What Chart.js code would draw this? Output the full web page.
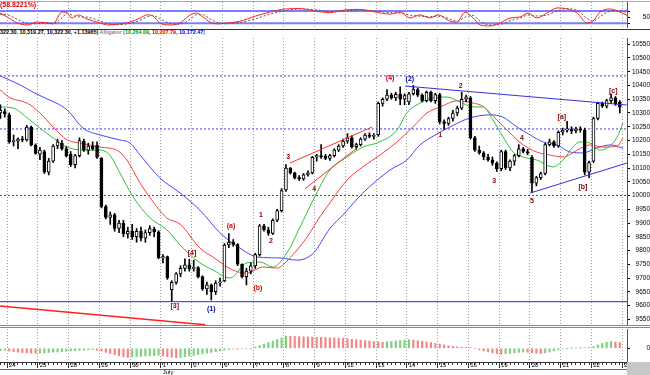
<!DOCTYPE html>
<html><head><meta charset="utf-8">
<script src="https://cdn.jsdelivr.net/npm/chart.js@4.4.1/dist/chart.umd.min.js"></script>
<style>
html,body{margin:0;padding:0;background:#fff}
#wrap{position:relative;width:650px;height:375px;overflow:hidden;font-family:"Liberation Sans",Arial,sans-serif}
canvas{position:absolute;left:0}
.hl{position:absolute;left:0;width:650px;height:1px}
</style></head><body><div id="wrap">
<canvas id="osc" width="650" height="29" style="top:0px"></canvas>
<canvas id="main" width="650" height="288" style="top:38px"></canvas>
<canvas id="hist" width="650" height="47" style="top:328px"></canvas>
<div class="hl" style="top:1px;background:#aaa"></div>
<div class="hl" style="top:29px;background:#333"></div>
<div class="hl" style="top:325px;background:#888"></div>
<div class="hl" style="top:327px;background:#888"></div>
<div style="position:absolute;left:0;top:369px;width:627px;height:1px;background:#666"></div>
<div style="position:absolute;left:627px;top:362px;width:23px;height:13px;background:#c8c8c8"></div>
<div id="t1" style="position:absolute;left:0;top:1px;font:bold 7px 'Liberation Sans';color:#e00000;white-space:nowrap">(58.8221%)</div>
<div id="t2" style="position:absolute;left:0;top:29px;font:bold 6px 'Liberation Sans';white-space:nowrap;transform-origin:0 0;color:#000">322.30, 10,319.27, 10,322.30, +1.13965) <span style="color:#888">Alligator</span> <span style="color:#666">(</span><span style="color:#00a000">10,264.09</span>, <span style="color:#e00000">10,207.79</span>, <span style="color:#0000e0">10,172.47</span><span style="color:#666">)</span></div>
</div>
<script>
// ---------- data ----------
const dayLabels = ['24','25','28','29','30',['1','July'],'2','6','7','8','9','12','13','14','15','16','19','20','21','22','23'];
const barsPerDay = 7;
const firstBar = -2;
const open  = [10300,10305,10293,10195,10198,10205,10202,10249,10183,10150,10160,10085,10125,10180,10190,10170,10150,10112,10145,10198,10165,10180,10182,10135,9960,9920,9930,9880,9900,9860,9870,9850,9870,9845,9865,9878,9868,9772,9778,9658,9684,9715,9735,9748,9735,9738,9705,9660,9675,9650,9682,9690,9820,9830,9822,9750,9705,9725,9744,9785,9890,9875,9862,9910,9945,10020,10100,10082,10065,10060,10075,10082,10139,10145,10142,10135,10145,10165,10180,10198,10210,10178,10185,10205,10220,10215,10220,10335,10350,10365,10355,10368,10350,10340,10370,10385,10365,10345,10375,10345,10367,10268,10262,10280,10300,10318,10350,10355,10210,10165,10155,10140,10130,10118,10098,10160,10100,10125,10145,10170,10160,10140,10045,10065,10080,10185,10195,10180,10230,10238,10240,10235,10242,10238,10085,10125,10280,10335,10325,10345,10355,10340];
const high  = [10330,10315,10300,10220,10210,10215,10255,10252,10188,10175,10165,10135,10185,10205,10200,10178,10160,10150,10210,10205,10190,10195,10195,10138,9965,9940,9935,9910,9910,9885,9895,9880,9885,9875,9890,9885,9872,9785,9780,9690,9720,9745,9770,9768,9765,9742,9708,9685,9678,9690,9700,9825,9862,9840,9825,9752,9735,9755,9790,9895,9895,9885,9915,9950,10025,10112,10102,10085,10072,10080,10090,10142,10150,10185,10150,10150,10170,10185,10205,10225,10218,10190,10210,10225,10228,10225,10340,10355,10385,10372,10375,10395,10370,10375,10400,10390,10370,10380,10380,10372,10372,10275,10285,10310,10325,10375,10365,10360,10215,10180,10160,10150,10140,10122,10165,10165,10130,10150,10185,10175,10168,10145,10070,10085,10190,10205,10200,10235,10245,10270,10250,10248,10250,10245,10125,10285,10340,10340,10350,10370,10360,10345];
const low   = [10280,10285,10190,10180,10170,10195,10198,10180,10150,10130,10080,10075,10120,10170,10165,10140,10105,10100,10140,10160,10150,10165,10135,9955,9915,9895,9870,9865,9850,9845,9840,9830,9835,9830,9855,9850,9770,9755,9695,9616,9678,9705,9725,9725,9725,9700,9655,9640,9620,9640,9670,9686,9810,9815,9745,9700,9675,9715,9735,9780,9870,9855,9858,9905,9940,10015,10078,10060,10055,10055,10070,10078,10125,10135,10130,10128,10140,10160,10175,10190,10172,10168,10180,10200,10210,10205,10215,10325,10345,10350,10345,10330,10330,10330,10365,10360,10340,10340,10340,10335,10260,10240,10255,10270,10290,10312,10340,10205,10160,10150,10130,10125,10110,10088,10090,10095,10090,10110,10140,10155,10148,10010,10035,10058,10075,10180,10175,10175,10220,10230,10225,10228,10230,10075,10065,10120,10275,10320,10318,10335,10328,10300];
const close = [10310,10298,10195,10200,10205,10202,10249,10183,10153,10165,10085,10125,10180,10195,10170,10144,10112,10145,10200,10165,10180,10170,10139,9960,9920,9930,9880,9900,9860,9870,9850,9870,9845,9865,9880,9868,9774,9778,9700,9684,9715,9735,9748,9733,9738,9705,9660,9675,9650,9682,9686,9820,9830,9822,9750,9705,9725,9744,9785,9890,9875,9862,9910,9945,10018,10100,10082,10065,10060,10075,10082,10139,10145,10140,10135,10145,10165,10180,10198,10210,10178,10185,10205,10220,10215,10216,10335,10350,10365,10355,10368,10350,10363,10370,10385,10365,10345,10375,10345,10367,10268,10262,10280,10300,10318,10350,10359,10210,10165,10155,10140,10130,10118,10098,10160,10100,10125,10145,10170,10160,10154,10045,10065,10080,10185,10195,10180,10230,10238,10240,10235,10242,10238,10085,10120,10280,10335,10325,10345,10355,10332,10322];

// Alligator lines (bar position, price)
const lipsX  = [-2.09,0.9,4.1,7.0,10.0,13.2,16.8,20.7,22.9,25.2,28.2,32.1,35.9,38.9,43.4,46.4,50.3,54.1,57.1,60.0,63.2,66.2,69.2,73.0,76.9,80.5,84.4,88.3,90.5,93.5,96.5,99.7,102.6,105.6,107.8,110.1,112.4,114.7,117.0,120.1,123.8,126.1,128.3,129.9,132.2,134.5,136.1,138.4,139.7];
const lipsY  = [10322,10318,10282,10245,10209,10176,10165,10165,10147,10082,9995,9918,9875,9820,9755,9729,9700,9755,9758,9740,9791,9885,9984,10093,10140,10176,10195,10238,10300,10336,10355,10358,10340,10322,10322,10275,10213,10158,10140,10129,10104,10129,10176,10195,10191,10165,10173,10213,10264];
const teethX = [-2.09,0.2,4.1,7.0,10.0,13.2,16.1,20.7,24.5,26.8,29.8,32.1,35.9,38.9,43.4,46.4,50.9,54.1,57.8,60.9,63.9,67.8,70.7,73.0,76.9,80.5,84.4,88.3,91.9,95.1,98.1,102.0,105.6,107.8,111.0,114.0,117.0,120.1,123.1,126.1,129.3,132.2,135.2,138.4,139.7];
const teethY = [10384,10355,10336,10300,10249,10202,10191,10176,10165,10129,10045,9991,9918,9896,9809,9776,9729,9718,9740,9736,9773,9849,9922,9973,10056,10104,10147,10195,10249,10300,10322,10344,10336,10325,10275,10227,10184,10158,10147,10140,10165,10184,10176,10180,10208];
const jawX   = [-2.09,2.5,5.4,7.7,13.2,16.8,20.7,25.2,27.5,29.8,34.3,38.9,43.4,48.0,52.5,56.6,61.6,65.5,69.2,73.0,76.0,80.5,86.7,90.5,93.5,95.8,100.3,104.9,109.4,112.4,115.6,118.6,121.5,124.7,127.7,130.6,133.8,136.8,139.7];
const jawY   = [10435,10402,10376,10358,10311,10245,10220,10202,10191,10147,10064,10009,9947,9864,9809,9776,9773,9765,9790,9880,9930,10009,10093,10129,10184,10209,10249,10282,10293,10285,10249,10220,10195,10184,10158,10155,10173,10184,10172];

const priceTicks = [9550,9600,9650,9700,9750,9800,9850,9900,9950,10000,10050,10100,10150,10200,10250,10300,10350,10400,10450,10500,10550];
const dottedLevels = [10435,10242,10000];
const lowLevel = 9614;
// trend lines: [x1, p1, x2, p2]
const blueTrendTop    = [90.1,10398,140.6,10329];
const blueTrendBottom = [118.6,10009,140.6,10118];
const redTrendUpper   = [63.9,10118,82.6,10249];
const redTrendLower   = [67.3,10024,79.4,10176];
const redTrendLeft    = [-2.09,9598,44.6,9530];

const waveText  = ['[5]','[3]','[4]','(1)','(a)','(b)','1','2','3','4','(4)','(2)','1','2','3','4','5','[a]','[b]','[c]'];
const waveIdx   = [-3.0,37.7,41.6,46,50.5,56.6,57.3,59.6,63.5,69.4,86.7,91.2,98.1,102.8,110.4,116.7,119,125.8,130.6,137.5];
const wavePrice = [10376,9598,9791,9587,9889,9664,9929,9835,10140,10024,10427,10424,10220,10398,10053,10209,9980,10285,10031,10380];
const waveColor = ['#8b0000','#8b0000','#8b0000','#000099','#e00000','#e00000','#8b0000','#8b0000','#8b0000','#8b0000','#e00000','#000099','#8b0000','#8b0000','#8b0000','#8b0000','#8b0000','#8b0000','#8b0000','#8b0000'];

// oscillator (top panel)
const oscX   = [-2.09,-0.5,1.8,4.1,6.3,8.6,10,12,13.2,14.3,15.7,17.7,20.7,22.3,25.2,27.5,29.8,31.4,32.7,34.3,36.6,38.9,41.2,42.7,44.1,45.7,47.5,49.1,52.5,56,59.4,62.8,66.2,69.6,73,76.4,79.8,83.3,86.7,89,91.2,93.5,95.8,97.6,100.3,101.9,103.8,105.6,107.2,109.4,111.7,114,116.3,118.1,120.1,122.4,124.7,127,129.3,131.5,132.9,134.5,136.8,139,140.6];
const oscK   = [70,51,22,12,26,22,17,75,70,46,61,41,22,12,17,26,46,61,56,22,12,22,61,70,51,26,17,20,30,55,75,90,92,80,72,85,88,75,65,75,46,61,46,61,31,26,75,46,12,7,22,46,51,70,46,70,95,90,70,22,31,75,90,75,60];
const oscD   = [65,62,40,20,18,22,20,45,70,60,52,50,32,18,14,20,35,52,58,42,20,16,40,62,62,42,24,18,24,42,65,82,90,86,78,80,85,80,72,70,60,55,52,55,42,30,50,58,30,12,14,32,46,60,56,60,80,92,82,45,30,52,80,82,72];
const oscLevels = [80,20];

// lower histogram, one value per bar
const histVals = [-15,-14,-18,-22,-25,-28,-30,-32,-33,
  -32,-30,-28,-26,-24,-22,-20,-18,-16,-14,-12,-10,-8,
  -12,-18,-26,-34,-42,-50,-56,-60,
  -58,-56,-54,-52,-50,-48,-46,
  -50,-55,-60,-62,
  -60,-56,-52,-47,-42,-37,-32,-27,-22,-17,-12,
  -8,-5,-6,-3,-4,-1,
  8,18,28,38,48,58,68,
  80,79,78,77,76,75,74,73,72,71,70,69,68,66,63,60,57,
  54,51,48,45,42,40,
  43,46,49,52,55,57,
  54,50,46,42,38,33,28,22,
  17,13,10,7,5,3,
  -3,-10,-17,-24,-30,-35,-40,
  -36,-33,-30,-27,-24,-26,-29,
  -32,-35,-30,-24,-17,-10,-4,
  -1,1,3,2,4,5,
  12,22,32,40,44,41,38];

// ---------- layout constants ----------
const X_MIN = -2.094, X_MAX = 140.63;
const FONT = '"Liberation Sans", Arial, sans-serif';
const barPos = open.map((_, k) => firstBar + k);
const dayStarts = dayLabels.map((_, d) => d * barsPerDay - 0.5);

Chart.defaults.font.family = FONT;

function baseX(extra) {
  return Object.assign({
    type: 'linear', min: X_MIN, max: X_MAX, offset: false,
    grid: { offset: false, color: '#a0a0a0', drawTicks: false, lineWidth: 1 },
    border: { display: false, dash: [1, 2] },
    ticks: { display: false },
    afterBuildTicks: s => { s.ticks = dayStarts.map(v => ({ value: v })); },
    afterFit: s => { s.height = 0; }
  }, extra || {});
}
function rightY(min, max, ticks, labelFn, extra) {
  return Object.assign({
    position: 'right', min, max,
    grid: { drawOnChartArea: false, tickLength: 3, tickColor: '#000' },
    border: { display: true, color: '#555' },
    ticks: { color: '#000', font: { size: 6.5, family: FONT }, padding: 0, crossAlign: 'far', autoSkip: false, callback: labelFn },
    afterBuildTicks: s => { s.ticks = ticks.map(v => ({ value: v })); },
    afterFit: s => { s.width = 23; s.paddingTop = 0; s.paddingBottom = 0; }
  }, extra || {});
}
function lineDs(xs, ys, color, order, extra) {
  return Object.assign({
    type: 'line', data: xs.map((v, k) => ({ x: v, y: ys[k] })),
    borderColor: color, borderWidth: 1, pointRadius: 0, fill: false,
    cubicInterpolationMode: 'monotone', order
  }, extra || {});
}
function seg(a, color, order, extra) {
  return Object.assign({
    type: 'line', data: [{ x: a[0], y: a[1] }, { x: a[2], y: a[3] }],
    borderColor: color, borderWidth: 1, pointRadius: 0, fill: false, tension: 0, order
  }, extra || {});
}
const common = {
  responsive: false, animation: false, events: [],
  plugins: { legend: { display: false }, tooltip: { enabled: false } }
};

// ---------- oscillator ----------
new Chart(document.getElementById('osc'), {
  type: 'line',
  data: { datasets: [
    ...oscLevels.map(v => seg([X_MIN, v, X_MAX, v], '#7d7dff', 3, { borderWidth: 2 })),
    lineDs(oscX, oscD, '#555', 2, { borderDash: [2, 2] }),
    lineDs(oscX, oscK, '#ff2020', 1)
  ]},
  options: Object.assign({}, common, {
    layout: { padding: { top: 2, bottom: 2, left: 0, right: 0 } },
    scales: {
      x: baseX(),
      y: rightY(2, 124, [20, 50, 80], v => v === 50 ? '50' : '')
    }
  })
});

// ---------- main price chart ----------
const wavePlugin = {
  id: 'waves',
  afterDatasetsDraw(chart) {
    const { ctx, scales: { x, y } } = chart;
    ctx.save();
    ctx.textAlign = 'center'; ctx.textBaseline = 'middle';
    ctx.font = 'bold 7px ' + FONT;
    waveText.forEach((t, k) => {
      ctx.fillStyle = waveColor[k];
      ctx.fillText(t, x.getPixelForValue(waveIdx[k]), y.getPixelForValue(wavePrice[k]));
    });
    ctx.restore();
  }
};
new Chart(document.getElementById('main'), {
  type: 'bar',
  data: { datasets: [
    ...dottedLevels.map(v => seg([X_MIN, v, X_MAX, v], '#3a3aff', 20, { borderDash: [2, 2] })),
    seg([X_MIN, lowLevel, X_MAX, lowLevel], '#2828d8', 20),
    lineDs(jawX, jawY, '#4646ff', 12),
    lineDs(teethX, teethY, '#ff3c3c', 11),
    lineDs(lipsX, lipsY, '#2fbf2f', 10),
    {
      type: 'bar', data: barPos.map((x, k) => ({ x, y: [low[k], high[k]] })),
      backgroundColor: '#000', borderWidth: 0, barThickness: 1, grouped: false, order: 5
    },
    {
      type: 'bar', data: barPos.map((x, k) => ({ x, y: [Math.min(open[k], close[k]), Math.max(open[k], close[k])] })),
      backgroundColor: barPos.map((_, k) => close[k] >= open[k] ? '#fff' : '#000'),
      borderColor: '#000', borderWidth: 1, borderSkipped: false, barThickness: 3, minBarLength: 1, grouped: false, order: 4
    },
    seg(blueTrendTop, '#3030e0', 1),
    seg(blueTrendBottom, '#3030e0', 1),
    seg(redTrendUpper, '#ff3030', 1),
    seg(redTrendLower, '#ff3030', 1),
    seg(redTrendLeft, '#ff2020', 1, { borderWidth: 1.5 })
  ]},
  options: Object.assign({}, common, {
    layout: { padding: 0 },
    scales: {
      x: baseX(),
      y: rightY(9525.5, 10572.7, priceTicks, v => String(v))
    }
  }),
  plugins: [wavePlugin]
});

// ---------- histogram + date axis ----------
const histTicks = [];
for (let i = firstBar; i <= X_MAX; i++) histTicks.push({ value: i });
dayStarts.forEach((v, d) => histTicks.push({ value: v, major: true, label: dayLabels[d] }));
histTicks.sort((a, b) => a.value - b.value);
new Chart(document.getElementById('hist'), {
  type: 'bar',
  data: { datasets: [{
    data: barPos.map((x, k) => ({ x, y: histVals[k] })),
    backgroundColor: histVals.map((v, k) => k > 0 && v < histVals[k - 1] ? '#f58585' : '#7fd07f'),
    barThickness: 1.5, grouped: false, borderWidth: 0
  }]},
  options: Object.assign({}, common, {
    layout: { padding: { top: 1, left: 0, right: 0, bottom: 0 } },
    scales: {
      x: {
        type: 'linear', min: X_MIN, max: X_MAX, offset: false, position: 'bottom',
        grid: {
          offset: false, drawTicks: true, tickLength: 6,
          color: c => (c.tick && c.tick.major) ? '#a0a0a0' : 'rgba(0,0,0,0)',
          tickColor: '#333',
          tickBorderDash: c => (c.tick && c.tick.major) ? [] : [2, 10]
        },
        border: { display: true, color: '#333', dash: [1, 2] },
        ticks: {
          autoSkip: false, maxRotation: 0, align: 'start', labelOffset: 2, padding: -6,
          color: '#000', font: { size: 6, family: FONT },
          callback: function (v, i, ticks) { const t = ticks[i]; return t && t.major ? t.label : ''; }
        },
        afterBuildTicks: s => { s.ticks = histTicks.map(t => Object.assign({}, t)); },
        afterFit: s => { s.height = 13; }
      },
      y: rightY(-90.4, 127.4, [0], v => '0')
    }
  })
});

// fit the info line to its width in the reference
const t2 = document.getElementById('t2');
const w = t2.getBoundingClientRect().width;
t2.style.transform = 'scaleX(' + (205 / w) + ')';
</script>
</body></html>
